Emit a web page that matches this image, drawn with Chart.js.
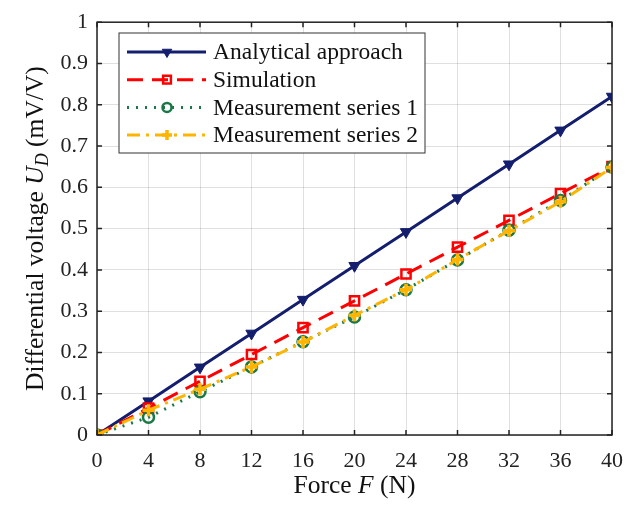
<!DOCTYPE html>
<html>
<head>
<meta charset="utf-8">
<script src="https://cdn.jsdelivr.net/npm/chart.js@4/dist/chart.umd.min.js"></script>
<style>
  html, body { margin: 0; padding: 0; background: #fff; }
  #wrap { width: 636px; height: 506px; }
</style>
</head>
<body>
<div id="wrap"><canvas id="forceChart" width="636" height="506"></canvas></div>
<script>
// force steps (N)
const forces = [0, 4, 8, 12, 16, 20, 24, 28, 32, 36, 40];
// differential voltage (mV/V)
const analytical = [0, 0.082, 0.164, 0.246, 0.328, 0.41, 0.492, 0.574, 0.656, 0.738, 0.82];
const simulation = [0, 0.065, 0.13, 0.195, 0.26, 0.325, 0.39, 0.455, 0.52, 0.585, 0.65];
const series1 = [0, 0.043, 0.105, 0.165, 0.226, 0.286, 0.352, 0.424, 0.496, 0.568, 0.649];
const series2 = [0, 0.06, 0.111, 0.165, 0.225, 0.29, 0.352, 0.425, 0.495, 0.565, 0.648];
const xTicks = [0, 4, 8, 12, 16, 20, 24, 28, 32, 36, 40];
const yTicks = [0, 0.1, 0.2, 0.3, 0.4, 0.5, 0.6, 0.7, 0.8, 0.9, 1];

const serif = "'Liberation Serif', 'Times New Roman', serif";
const navy = 'rgb(20, 30, 110)';
const red = 'rgb(255, 0, 0)';
const green = 'rgb(25, 120, 70)';
const amber = 'rgb(255, 180, 0)';

function pts(ys) {
  return forces.map((f, i) => ({ x: f, y: ys[i] }));
}

// box, inward ticks, in-plot legend and mixed-style axis titles
const decorations = {
  id: 'decorations',
  afterDraw(chart) {
    const ctx = chart.ctx;
    const a = chart.chartArea;
    const xs = chart.scales.x, ys = chart.scales.y;
    ctx.save();
    ctx.strokeStyle = '#222';
    ctx.lineWidth = 1.5;
    ctx.strokeRect(a.left, a.top, a.right - a.left, a.bottom - a.top);
    ctx.beginPath();
    xTicks.forEach(v => {
      const px = xs.getPixelForValue(v);
      ctx.moveTo(px, a.bottom); ctx.lineTo(px, a.bottom - 5);
      ctx.moveTo(px, a.top); ctx.lineTo(px, a.top + 5);
    });
    yTicks.forEach(v => {
      const py = ys.getPixelForValue(v);
      ctx.moveTo(a.left, py); ctx.lineTo(a.left + 5, py);
      ctx.moveTo(a.right, py); ctx.lineTo(a.right - 5, py);
    });
    ctx.stroke();

    // legend
    const lx = 119, ly = 33, lw = 306, lh = 120;
    ctx.fillStyle = '#fff';
    ctx.fillRect(lx, ly, lw, lh);
    ctx.strokeStyle = '#333';
    ctx.lineWidth = 1;
    ctx.strokeRect(lx, ly, lw, lh);
    chart.data.datasets.forEach((ds, i) => {
      const y = 52 + i * 27.7;
      ctx.strokeStyle = ds.borderColor;
      ctx.lineWidth = ds.borderWidth;
      ctx.setLineDash(ds.borderDash || []);
      ctx.beginPath();
      ctx.moveTo(127, y); ctx.lineTo(206, y);
      ctx.stroke();
      ctx.setLineDash([]);
      ctx.fillStyle = ds.pointBackgroundColor;
      ctx.strokeStyle = ds.pointBorderColor;
      ctx.lineWidth = ds.pointBorderWidth;
      Chart.helpers.drawPoint(ctx, {
        pointStyle: ds.pointStyle, radius: ds.pointRadius - 1,
        rotation: ds.pointRotation || 0, borderWidth: ds.pointBorderWidth
      }, 167, y);
      ctx.fillStyle = '#111';
      ctx.font = '23.5px ' + serif;
      ctx.textBaseline = 'middle';
      ctx.textAlign = 'left';
      ctx.fillText(ds.label, 213, y + 1);
    });

    // axis titles
    const parts = (segs, cx, cy) => {
      let w = 0;
      segs.forEach(s => { ctx.font = s.font; w += ctx.measureText(s.t).width; });
      let x = cx - w / 2;
      segs.forEach(s => {
        ctx.font = s.font;
        ctx.fillText(s.t, x, cy + (s.dy || 0));
        x += ctx.measureText(s.t).width;
      });
    };
    ctx.fillStyle = '#111';
    ctx.textAlign = 'left';
    ctx.textBaseline = 'middle';
    parts([
      { t: 'Force ', font: '25.5px ' + serif },
      { t: 'F', font: 'italic 25.5px ' + serif },
      { t: ' (N)', font: '25.5px ' + serif }
    ], (a.left + a.right) / 2, 486);
    ctx.save();
    ctx.translate(36, (a.top + a.bottom) / 2);
    ctx.rotate(-Math.PI / 2);
    parts([
      { t: 'Differential voltage ', font: '25.5px ' + serif },
      { t: 'U', font: 'italic 25.5px ' + serif },
      { t: 'D', font: 'italic 18px ' + serif, dy: 7 },
      { t: ' (mV/V)', font: '25.5px ' + serif }
    ], 0, 0);
    ctx.restore();
    ctx.restore();
  }
};

const ctx = document.getElementById('forceChart').getContext('2d');
new Chart(ctx, {
  type: 'line',
  data: {
    datasets: [
      {
        label: 'Analytical approach',
        data: pts(analytical),
        borderColor: navy, borderWidth: 3,
        pointStyle: 'triangle', pointRotation: 180, pointRadius: 6.5,
        pointBackgroundColor: navy, pointBorderColor: navy, pointBorderWidth: 1,
        order: 3
      },
      {
        label: 'Simulation',
        data: pts(simulation),
        borderColor: red, borderWidth: 3, borderDash: [16, 9],
        pointStyle: 'rect', pointRadius: 6.5,
        pointBackgroundColor: 'rgba(255,255,255,0)', pointBorderColor: red, pointBorderWidth: 2.5,
        order: 2
      },
      {
        label: 'Measurement series 1',
        data: pts(series1),
        borderColor: green, borderWidth: 3, borderDash: [2, 7],
        pointStyle: 'circle', pointRadius: 5.5,
        pointBackgroundColor: 'rgba(255,255,255,0)', pointBorderColor: green, pointBorderWidth: 2.5,
        order: 1
      },
      {
        label: 'Measurement series 2',
        data: pts(series2),
        borderColor: amber, borderWidth: 3, borderDash: [13, 6, 3, 6],
        pointStyle: 'cross', pointRadius: 6,
        pointBackgroundColor: amber, pointBorderColor: amber, pointBorderWidth: 3.5,
        order: 0
      }
    ]
  },
  options: {
    responsive: false,
    animation: false,
    layout: { padding: { left: 0, top: 15, right: 24, bottom: 0 } },
    plugins: { legend: { display: false }, tooltip: { enabled: false } },
    scales: {
      x: {
        type: 'linear', min: 0, max: 40,
        afterBuildTicks: s => { s.ticks = xTicks.map(v => ({ value: v })); },
        afterFit: s => { s.height = 71; },
        grid: { color: 'rgba(0,0,0,0.12)', drawTicks: false },
        border: { display: false },
        ticks: { color: '#222', padding: 13, font: { family: serif, size: 22 } }
      },
      y: {
        type: 'linear', min: 0, max: 1,
        afterBuildTicks: s => { s.ticks = yTicks.map(v => ({ value: v })); },
        afterFit: s => { s.width = 97; },
        grid: { color: 'rgba(0,0,0,0.12)', drawTicks: false },
        border: { display: false },
        ticks: {
          color: '#222', padding: 9, font: { family: serif, size: 22 },
          callback: v => String(Math.round(v * 10) / 10)
        }
      }
    }
  },
  plugins: [decorations]
});
</script>
</body>
</html>
